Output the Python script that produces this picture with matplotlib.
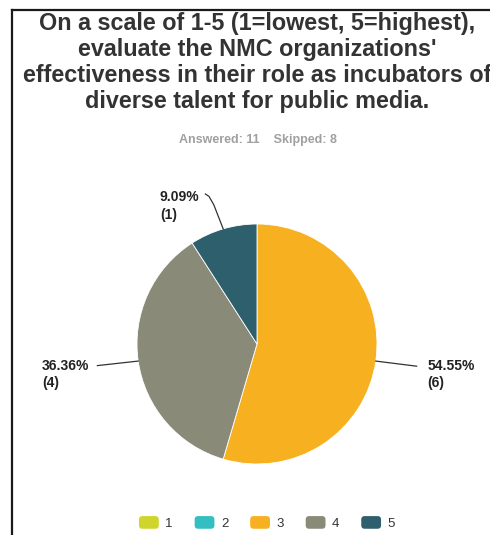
import numpy as np
import matplotlib
matplotlib.use("Agg")
import matplotlib.pyplot as plt
from matplotlib.patches import FancyBboxPatch
from matplotlib.legend_handler import HandlerPatch
from matplotlib.lines import Line2D

plt.rcParams['font.family'] = ['Liberation Sans', 'DejaVu Sans']

# survey responses, rating 1-5
ratings = ['1', '2', '3', '4', '5']
counts = [0, 0, 6, 4, 1]
percents = [0.0, 0.0, 54.55, 36.36, 9.09]
colors = ['#cfd52b', '#33bfc1', '#f7b01f', '#8a8a79', '#2d5f6d']

title_lines = [
    "On a scale of 1-5 (1=lowest, 5=highest),",
    "evaluate the NMC organizations'",
    "effectiveness in their role as incubators of",
    "diverse talent for public media.",
]
answered = 11
skipped = 8

W, H = 490, 535
fig = plt.figure(figsize=(W / 100, H / 100), dpi=100)
fig.patch.set_facecolor('white')

# box edges (top and left)
fig.add_artist(Line2D([12 / W, 1.0], [1 - 10 / H, 1 - 10 / H], color='#1a1a1a', lw=1.6))
fig.add_artist(Line2D([12 / W, 12 / W], [0.0, 1 - 10 / H], color='#1a1a1a', lw=1.6))

# title, one line at a time
baselines = [30, 56, 82, 108]
for line, yb in zip(title_lines, baselines):
    fig.text(257 / W, 1 - yb / H, line, ha='center', va='baseline',
             fontsize=16.8, fontweight='bold', color='#333333')

fig.text(258 / W, 1 - 143 / H, "Answered: %d    Skipped: %d" % (answered, skipped),
         ha='center', va='baseline', fontsize=9, fontweight='bold', color='#a0a0a0')

# pie area: centre (257, 344) px, radius 120 px
cx, cy, r = 257, 344, 120
ax = fig.add_axes([(cx - r) / W, (H - cy - r) / H, 2 * r / W, 2 * r / H])
wedges, _ = ax.pie(counts, colors=colors, startangle=90, counterclock=False,
                   radius=1.0, wedgeprops=dict(edgecolor='white', linewidth=0.6))
ax.set_xlim(-1, 1)
ax.set_ylim(-1, 1)
ax.set_aspect('equal')
ax.axis('off')

# leader lines and value labels for non-empty slices
lbl = dict(fontsize=10, fontweight='bold', color='#222222', linespacing=1.3,
           multialignment='left', va='top')
for w, c, p in zip(wedges, counts, percents):
    if c == 0:
        continue
    ang = np.deg2rad((w.theta1 + w.theta2) / 2)
    x0, y0 = np.cos(ang), np.sin(ang)
    label = "%.2f%%\n(%d)" % (p, c)
    if x0 > 0.5:
        ax.plot([x0, 1.33], [y0, -0.185], color='#333333', lw=0.9, clip_on=False)
        ax.text(1.42, -0.125, label, ha='left', **lbl)
    elif x0 < -0.5:
        ax.plot([x0, -1.33], [y0, -0.18], color='#333333', lw=0.9, clip_on=False)
        ax.text(-1.79, -0.125, label, ha='left', **lbl)
    else:
        ax.plot([x0, -0.36, -0.40, -0.43], [y0, 1.16, 1.23, 1.25],
                color='#333333', lw=0.9, clip_on=False)
        ax.text(-0.81, 1.28, label, ha='left', **lbl)


class RoundedHandler(HandlerPatch):
    def create_artists(self, legend, orig_handle, xdescent, ydescent,
                       width, height, fontsize, trans):
        p = FancyBboxPatch((-xdescent, -ydescent), width, height,
                           boxstyle="round,pad=0,rounding_size=2.5",
                           facecolor=orig_handle.get_facecolor(),
                           edgecolor='none', transform=trans)
        return [p]


fig.legend(wedges, ratings, loc='center', bbox_to_anchor=(267 / W, 1 - 523 / H),
           ncol=5, frameon=False, fontsize=9.5, handlelength=1.5, handleheight=1.1,
           handletextpad=0.5, columnspacing=1.65, labelcolor='#333333',
           handler_map={w: RoundedHandler() for w in wedges})

fig.savefig("out.png", dpi=100, facecolor='white')
